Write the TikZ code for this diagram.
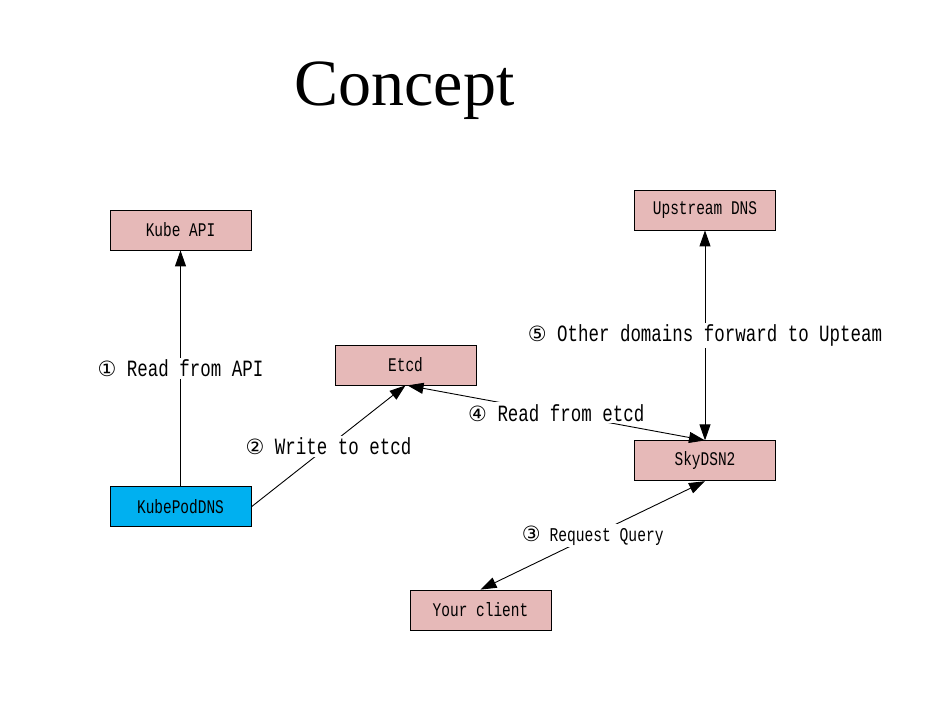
\documentclass[tikz,border=0pt]{standalone}
\usepackage{fontspec}
\setmainfont{Liberation Serif}
\newfontfamily\tallmono[FakeStretch=0.75]{Liberation Mono}
\newfontfamily\circfont{DejaVu Sans}
\usetikzlibrary{arrows.meta,positioning}

\definecolor{boxpink}{HTML}{E6B9B8}
\definecolor{podblue}{HTML}{00B0F0}
\newcommand{\stepnum}[1]{{\circfont\fontsize{21}{22}\selectfont #1}\ }

\tikzset{
  box/.style={draw, rectangle, fill=boxpink, line width=0.8pt,
              minimum width=141pt, minimum height=40pt, inner sep=0pt,
              font=\tallmono\fontsize{19.3}{20}\selectfont},
  tip/.tip={Triangle[length=16pt,width=11pt]},
  flow/.style={-tip, line width=0.9pt},
  twoway/.style={tip-tip, line width=0.9pt},
  lbl/.style={fill=white, inner sep=2pt,
              font=\tallmono\fontsize{23.3}{24}\selectfont},
}

\begin{document}
\begin{tikzpicture}[x=1pt, y=-1pt]
  \useasboundingbox (0,0) rectangle (951,716);

  \node (title)
        [anchor=base, font=\fontsize{66}{70}\selectfont]
        at (404.5,105) {Concept};

  \node (kubeAPI)
        [box]
        at (180.5,230) {Kube API};
  \node (kubePodDNS)
        [box, fill=podblue, below=236pt of kubeAPI]
        {KubePodDNS};
  \node (etcd)
        [box]
        at (405.5,365) {Etcd};
  \node (upstreamDNS)
        [box]
        at (705,210) {Upstream DNS};
  \node (skyDSN)
        [box, below=210pt of upstreamDNS]
        {SkyDSN2};
  \node (client)
        [box]
        at (480.5,610) {Your client};

  \draw[flow] (kubePodDNS) -- node[lbl] {\stepnum{①}Read from API} (kubeAPI);
  \draw[flow] (kubePodDNS.east) -- node[lbl] {\stepnum{②}Write to etcd} (etcd.south);
  \draw[twoway] (client.north) -- node[lbl, font=\tallmono\fontsize{19.5}{20}\selectfont]
        {\stepnum{③}Request Query} (skyDSN.south);
  \draw[twoway] ([xshift=2pt]etcd.south) -- node[lbl] {\stepnum{④}Read from etcd} (skyDSN.north);
  \draw[twoway] (upstreamDNS) -- node[lbl] {\stepnum{⑤}Other domains forward to Upteam} (skyDSN);
\end{tikzpicture}
\end{document}
